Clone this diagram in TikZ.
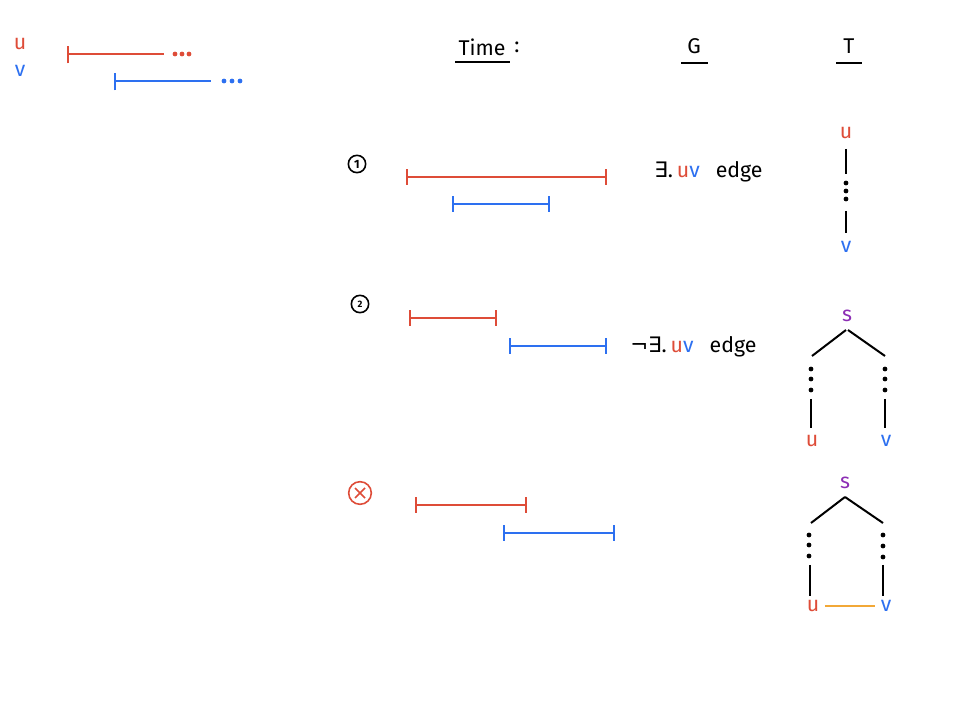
\documentclass[tikz,border=0pt]{standalone}
\usepackage{fontspec}
\setmainfont{Fira Sans}
\newfontfamily\symf{DejaVu Sans}
\definecolor{ured}{RGB}{222,76,56}
\definecolor{vblue}{RGB}{45,112,240}
\definecolor{spurple}{RGB}{140,45,180}
\definecolor{eorange}{RGB}{242,168,55}
\tikzset{
  txt/.style={inner sep=0pt, font=\fontsize{16}{17}\selectfont},
  redbar/.style={draw=ured, line width=1.5pt},
  bluebar/.style={draw=vblue, line width=1.5pt},
  blk/.style={draw=black, line width=1.5pt},
  dotc/.style={circle, fill=black, inner sep=0pt, minimum size=3.6pt},
  rdot/.style={circle, fill=ured, inner sep=0pt, minimum size=3.6pt},
  bdot/.style={circle, fill=vblue, inner sep=0pt, minimum size=3.6pt},
}
\newcommand{\interval}[5]{% style, x1, x2, y, name
  \coordinate (#5a) at (#2,#4); \coordinate (#5b) at (#3,#4);
  \draw[#1] (#5a) -- (#5b);
  \draw[#1] ([yshift=-6pt]#5a) -- ([yshift=6pt]#5a);
  \draw[#1] ([yshift=-6pt]#5b) -- ([yshift=6pt]#5b);
}
\begin{document}
\begin{tikzpicture}[x=0.75pt,y=-0.75pt]
\useasboundingbox (0,0) rectangle (958,702);
% legend
\node[txt, text=ured] (lu) at (20,44) {u};
\node[txt, text=vblue] (lv) at (20,71) {v};
\coordinate (la) at (68,54); \coordinate (lb) at (164,54);
\draw[redbar] (la) -- (lb); \draw[redbar] ([yshift=-7pt]la) -- ([yshift=6pt]la);
\node[rdot] (ld1) at (175,54) {}; \node[rdot] (ld2) at (182,54) {}; \node[rdot] (ld3) at (189,54) {};
\coordinate (lc) at (115,81); \coordinate (ld) at (211,81);
\draw[bluebar] (lc) -- (ld); \draw[bluebar] ([yshift=-7pt]lc) -- ([yshift=6pt]lc);
\node[bdot] (le1) at (224,81) {}; \node[bdot] (le2) at (232,81) {}; \node[bdot] (le3) at (240,81) {};
% headers
\node[txt] (time) at (482,47) {Time};
\node[txt] (colon) at (517,47) {:};
\draw[blk, line width=1.2pt] (455,62) -- (510,62);
\node[txt] (G) at (694,46) {G};
\draw[blk, line width=1.2pt] (681,63) -- (708,63);
\node[txt] (T) at (849,46) {T};
\draw[blk, line width=1.2pt] (836,63) -- (862,63);
% case 1
\node[circle, draw, line width=1.2pt, minimum size=13pt, inner sep=0pt, font=\fontsize{9}{9}\selectfont\bfseries] (c1) at (357,164) {1};
\interval{redbar}{407}{606}{177}{r1}
\interval{bluebar}{453}{549}{204}{b1}
\node[txt, anchor=west] (g1) at (654,172) {{\symf ∃}.\hspace{3pt}\textcolor{ured}{u}\textcolor{vblue}{v}\hspace{12pt}edge};
\node[txt, text=ured] (u1) at (846,133) {u};
\node[dotc] (d11) at (846,183) {};
\node[dotc] (d12) at (846,191) {};
\node[dotc] (d13) at (846,199) {};
\node[txt, text=vblue] (v1) at (846,247) {v};
\draw[blk] (846,149) -- (846,174);
\draw[blk] (846,211) -- (846,233);
% case 2
\node[circle, draw, line width=1.2pt, minimum size=13pt, inner sep=0pt, font=\fontsize{7}{7}\selectfont\bfseries] (c2) at (360,304) {2};
\interval{redbar}{410}{496}{318}{r2}
\interval{bluebar}{510}{606}{346}{b2}
\node[txt, anchor=west] (g2) at (630,347) {{\symf ¬∃}.\hspace{3pt}\textcolor{ured}{u}\textcolor{vblue}{v}\hspace{12pt}edge};
\node[txt, text=spurple] (s2) at (847,316) {s};
\draw[blk] (846,330) -- (812,356);
\draw[blk] (848,330) -- (885,356);
\node[dotc] (d21) at (811,369) {}; \node[dotc] (d22) at (811,379) {}; \node[dotc] (d23) at (811,390) {};
\node[dotc] (d24) at (885,369) {}; \node[dotc] (d25) at (885,379) {}; \node[dotc] (d26) at (885,390) {};
\draw[blk] (811,399) -- (811,428);
\draw[blk] (885,399) -- (885,428);
\node[txt, text=ured] (u2) at (812,441) {u};
\node[txt, text=vblue] (v2) at (886,441) {v};
% case 3
\node[circle, draw=ured, line width=1.2pt, minimum size=17pt, inner sep=0pt] (c3) at (360,493) {};
\draw[ured, line width=1.2pt] (355,488) -- (365,498) (365,488) -- (355,498);
\interval{redbar}{416}{526}{505}{r3}
\interval{bluebar}{504}{614}{533}{b3}
\node[txt, text=spurple] (s3) at (845,483) {s};
\draw[blk] (845,497) -- (811,523);
\draw[blk] (845,497) -- (883,523);
\node[dotc] (d31) at (809,535) {}; \node[dotc] (d32) at (809,545) {}; \node[dotc] (d33) at (809,556) {};
\node[dotc] (d34) at (883,535) {}; \node[dotc] (d35) at (883,546) {}; \node[dotc] (d36) at (883,557) {};
\draw[blk] (810,565) -- (810,596);
\draw[blk] (883,565) -- (883,596);
\node[txt, text=ured] (u3) at (813,606) {u};
\node[txt, text=vblue] (v3) at (886,606) {v};
\draw[eorange, line width=1.5pt] (u3.east) ++(4pt,0) -- ([xshift=-4pt]v3.west);
\end{tikzpicture}
\end{document}
